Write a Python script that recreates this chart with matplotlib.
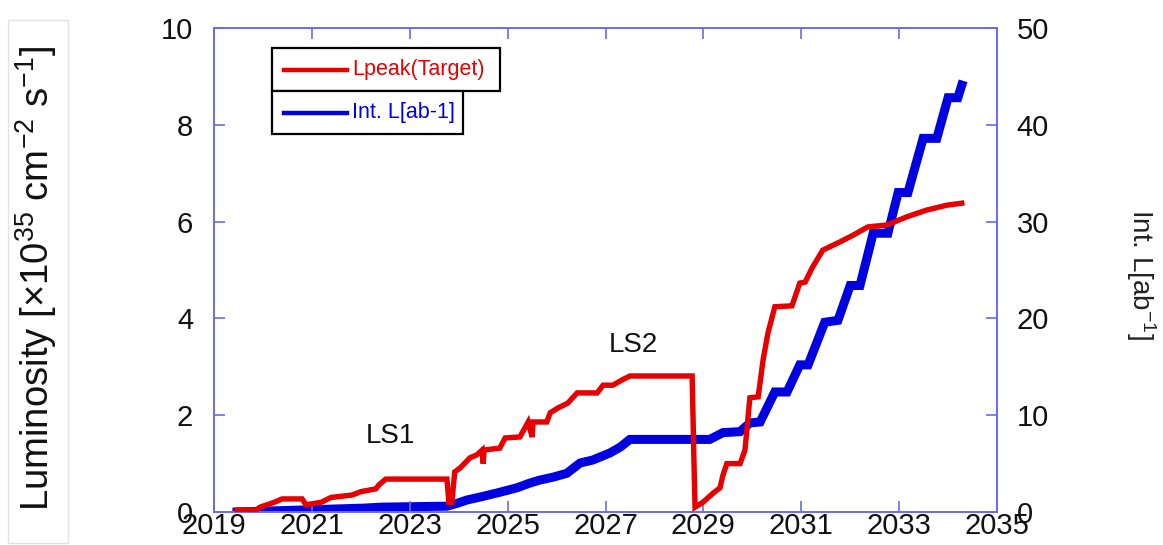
import matplotlib
matplotlib.use("Agg")
import matplotlib.pyplot as plt
from matplotlib.patches import Rectangle
from matplotlib.lines import Line2D

plt.rcParams['font.family'] = ['Liberation Sans', 'DejaVu Sans']
plt.rcParams['mathtext.fontset'] = 'custom'
plt.rcParams['mathtext.rm'] = 'Liberation Sans'
plt.rcParams['mathtext.it'] = 'Liberation Sans:italic'
plt.rcParams['mathtext.bf'] = 'Liberation Sans:bold'

# Peak luminosity target [1e35 cm^-2 s^-1]
lpeak_year = [2019.47, 2019.86, 2019.94, 2020.23, 2020.39, 2020.80, 2020.88, 2021.19,
              2021.39, 2021.82, 2022.00, 2022.31, 2022.37, 2022.51, 2023.76, 2023.80,
              2023.86, 2023.92, 2024.03, 2024.23, 2024.37, 2024.48, 2024.50, 2024.52,
              2024.84, 2024.95, 2025.25, 2025.42, 2025.50, 2025.52, 2025.80, 2025.87,
              2026.03, 2026.23, 2026.42, 2026.83, 2026.95, 2027.15, 2027.34, 2027.50,
              2028.77, 2028.79, 2028.81, 2028.83, 2028.99, 2029.20, 2029.34, 2029.40,
              2029.48, 2029.75, 2029.85, 2029.95, 2030.12, 2030.22, 2030.32, 2030.46,
              2030.81, 2030.97, 2031.08, 2031.22, 2031.44, 2031.79, 2032.06, 2032.36,
              2032.75, 2033.16, 2033.57, 2033.98, 2034.28]
lpeak_value = [0.04, 0.04, 0.10, 0.20, 0.27, 0.27, 0.15, 0.20,
               0.30, 0.35, 0.42, 0.48, 0.56, 0.68, 0.68, 0.20,
               0.20, 0.83, 0.91, 1.12, 1.18, 1.28, 1.00, 1.28,
               1.32, 1.53, 1.55, 1.86, 1.55, 1.86, 1.86, 2.05,
               2.15, 2.25, 2.46, 2.46, 2.62, 2.62, 2.73, 2.81,
               2.81, 1.90, 0.93, 0.10, 0.20, 0.39, 0.50, 0.76,
               1.00, 1.00, 1.28, 2.36, 2.38, 3.14, 3.70, 4.24,
               4.26, 4.73, 4.75, 5.04, 5.41, 5.58, 5.72, 5.89,
               5.93, 6.10, 6.24, 6.34, 6.38]

# Integrated luminosity [ab^-1]
intl_year = [2019.47, 2022.06, 2022.41, 2023.76, 2023.97, 2024.17, 2024.44, 2024.78,
             2025.19, 2025.46, 2025.66, 2025.93, 2026.21, 2026.48, 2026.74, 2027.09,
             2027.30, 2027.50, 2029.13, 2029.40, 2029.75, 2029.95, 2030.16, 2030.46,
             2030.71, 2030.97, 2031.14, 2031.48, 2031.75, 2032.00, 2032.20, 2032.47,
             2032.77, 2032.98, 2033.18, 2033.49, 2033.77, 2034.00, 2034.20, 2034.28]
intl_value = [0.0, 0.4, 0.5, 0.6, 0.9, 1.24, 1.55, 1.96,
              2.5, 3.0, 3.3, 3.6, 4.0, 5.06, 5.37, 6.1,
              6.7, 7.5, 7.5, 8.2, 8.3, 9.2, 9.3, 12.4,
              12.4, 15.2, 15.2, 19.6, 19.8, 23.4, 23.4, 28.8,
              28.8, 33.0, 33.0, 38.6, 38.6, 42.8, 42.8, 44.1]

x_ticks = list(range(2019, 2036, 2))
left_ticks = [0, 2, 4, 6, 8, 10]
right_ticks = [0, 10, 20, 30, 40, 50]

RED = '#e60000'
BLUE = '#0000e0'
FRAME = '#6a6af0'
INK = '#111111'

fig = plt.figure(figsize=(11.63, 5.45), dpi=100)
ax = fig.add_axes([214 / 1163, 1 - 512 / 545, 783 / 1163, 484 / 545])
ax2 = ax.twinx()

ax.plot(lpeak_year, lpeak_value, color=RED, lw=3.9, solid_joinstyle='miter', zorder=3)
ax2.plot(intl_year, intl_value, color=BLUE, lw=6.5, solid_joinstyle='miter', zorder=2)

ax.set_zorder(ax2.get_zorder() + 1)
ax.patch.set_visible(False)

ax.set_xlim(2019, 2035)
ax.set_ylim(0, 10)
ax2.set_ylim(0, 50)
ax.set_xticks(x_ticks)
ax.set_yticks(left_ticks)
ax2.set_yticks(right_ticks)

for a in (ax, ax2):
    for sp in a.spines.values():
        sp.set_color(FRAME)
        sp.set_linewidth(1.2)

ax.tick_params(axis='x', direction='in', top=True, bottom=True, length=8, width=1.2,
               color=FRAME, labelsize=21, pad=0, labelcolor=INK)
ax.tick_params(axis='y', direction='in', length=8, width=1.2, color=FRAME,
               labelsize=21, pad=15, labelcolor=INK)
ax2.tick_params(axis='y', direction='in', length=8, width=1.2, color=FRAME,
                labelsize=21, pad=14, labelcolor=INK)

ax.text(2022.6, 1.57, 'LS1', fontsize=20, ha='center', va='center', color=INK)
ax.text(2027.56, 3.45, 'LS2', fontsize=20, ha='center', va='center', color=INK)

# Stacked legend boxes
def axfrac(px, py):
    return (px - 214) / 783, (512 - py) / 484

boxes = [
    (272, 48, 500, 91, RED, 'Lpeak(Target)'),
    (272, 91, 463, 134, BLUE, 'Int. L[ab-1]'),
]
for x0, y0, x1, y1, col, label in boxes:
    bx0, by1 = axfrac(x0, y0)
    bx1, by0 = axfrac(x1, y1)
    ax.add_patch(Rectangle((bx0, by0), bx1 - bx0, by1 - by0, transform=ax.transAxes,
                           facecolor='white', edgecolor='black', lw=1.6,
                           clip_on=False, zorder=5))
    lx0, ym = axfrac(284, (y0 + y1) / 2)
    lx1, _ = axfrac(347, 0)
    ax.add_line(Line2D([lx0, lx1], [ym, ym], transform=ax.transAxes, color=col,
                       lw=3.2, clip_on=False, zorder=6))
    tx, _ = axfrac(352, 0)
    ax.text(tx, ym, label, transform=ax.transAxes, color=col, fontsize=15.5,
            ha='left', va='center', zorder=6)

# Left axis title inside a faint frame
fig.add_artist(Rectangle((8 / 1163, 1 - 543 / 545), 60 / 1163, 523 / 545,
                         transform=fig.transFigure, facecolor='none',
                         edgecolor='#e2e2e2', lw=1))
fig.text(36 / 1163, 1 - 278 / 545,
         'Luminosity [\u00d710$^{35}$ cm$^{-2}$ s$^{-1}$]',
         rotation=90, ha='center', va='center', fontsize=27.5, color=INK)
fig.text(1141 / 1163, 1 - 275 / 545, 'Int. L[ab$^{-1}$]', rotation=-90,
         ha='center', va='center', fontsize=20, color='#222222')

fig.savefig('out.png', dpi=100)
